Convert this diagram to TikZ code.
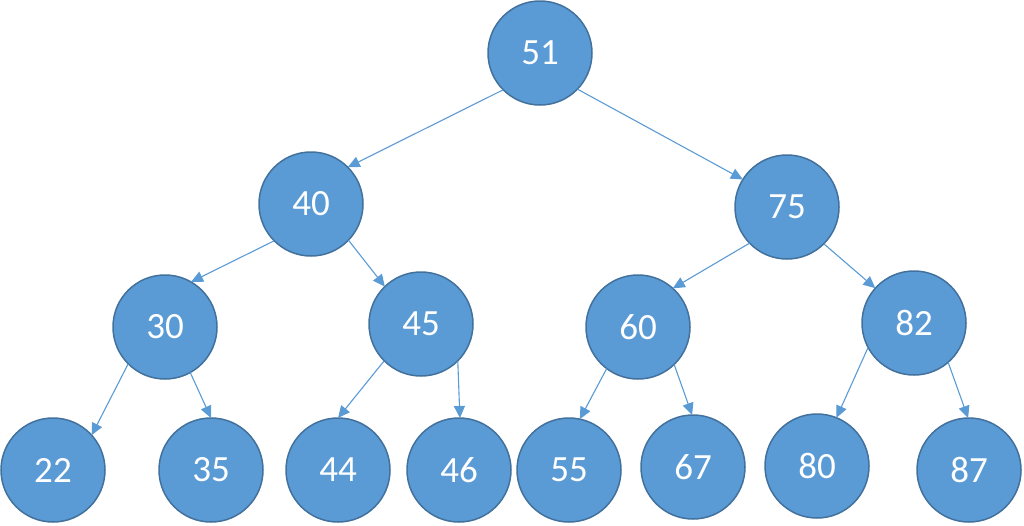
\documentclass[tikz,border=0pt]{standalone}
\usepackage{fontspec}
\setmainfont{Carlito}
\usetikzlibrary{arrows.meta}
\definecolor{nodefill}{HTML}{5B9BD5}
\definecolor{nodeline}{HTML}{41719C}
\tikzset{
  treenode/.style={circle, fill=nodefill, draw=nodeline, line width=1.5pt,
    minimum size=104pt, inner sep=0pt, outer sep=0pt, text=white,
    font=\fontsize{37}{42}\selectfont},
  edge/.style={draw=nodefill, line width=1.1pt,
    -{Triangle[length=12pt,width=11pt]}}
}
\begin{document}
\begin{tikzpicture}[x=1pt,y=-1pt]
\useasboundingbox (0,0) rectangle (1024,525);
\node[treenode] (n51) at (540,53) {51};
\node[treenode] (n40) at (311,204) {40};
\node[treenode] (n75) at (787,207) {75};
\node[treenode] (n30) at (165,327) {30};
\node[treenode] (n45) at (421,324) {45};
\node[treenode] (n60) at (638,327) {60};
\node[treenode] (n82) at (914,323) {82};
\node[treenode] (n22) at (53,470) {22};
\node[treenode] (n35) at (211,470) {35};
\node[treenode] (n44) at (338,470) {44};
\node[treenode] (n46) at (459,470) {46};
\node[treenode] (n55) at (569,470) {55};
\node[treenode] (n67) at (693,467) {67};
\node[treenode] (n80) at (817,466) {80};
\node[treenode] (n87) at (969,470) {87};
\draw[edge] (n51.225.7) -- (n40.45);
\draw[edge] (n51.-44.2) -- (n75.148.5);
\draw[edge] (n40.225) -- (n30.60);
\draw[edge] (n40.-44.3) -- (n45.134.3);
\draw[edge] (n75.224.3) -- (n60.48.6);
\draw[edge] (n75.-45) -- (n82.138.7);
\draw[edge] (n30.225) -- (n22.42.7);
\draw[edge] (n30.-61.5) -- (n35.90);
\draw[edge] (n45.225.7) -- (n44.90);
\draw[edge] (n45.-45.8) -- (n46.89);
\draw[edge] (n60.233.3) -- (n55.78);
\draw[edge] (n60.-46.5) -- (n67.91);
\draw[edge] (n82.208.5) -- (n80.68.6);
\draw[edge] (n82.-49.6) -- (n87.91);
\end{tikzpicture}
\end{document}
